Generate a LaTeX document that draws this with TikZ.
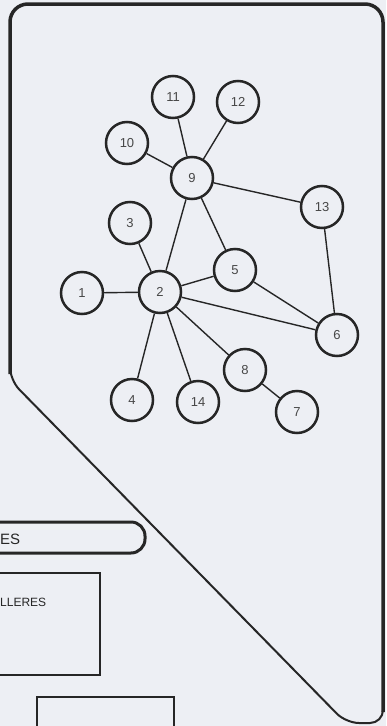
\documentclass[tikz,border=0pt]{standalone}
\usepackage{fontspec}
\setmainfont{Liberation Sans}
\definecolor{bg}{HTML}{EDEFF4}
\definecolor{ink}{HTML}{262626}
\begin{document}
\begin{tikzpicture}[x=1pt,y=-1pt,
  vtx/.style={circle,draw=ink,line width=2.5pt,fill=bg,minimum size=42pt,inner sep=0pt,font=\fontsize{13}{13}\selectfont,text=ink!85},
  edge/.style={draw=ink,line width=1.4pt},
  lbl/.style={font=\fontsize{15}{15}\selectfont,text=ink,inner sep=0pt}]
\useasboundingbox (0,0) rectangle (386,726);
\fill[bg] (0,0) rectangle (386,726);
\begin{scope}
\clip (0,0) rectangle (386,726);
% panel
\draw[ink,line width=2pt,rounded corners=13pt]
  (10,200) -- (10,380) -- (346,723) -- (383,723) -- (383,200);
\draw[ink,line width=3.5pt,rounded corners=18pt]
  (10,374) -- (10,4) -- (383,4) -- (383,712);
% left boxes
\draw[ink,line width=3pt,rounded corners=14pt] (-40,522) rectangle (145,553);
\node[lbl,anchor=west] (es) at (0,539) {ES};
\draw[ink,line width=1.8pt] (-10,573) rectangle (100,675);
\node[lbl,anchor=west,font=\fontsize{12}{12}\selectfont] (ll) at (0,602) {LLERES};
\draw[ink,line width=1.8pt] (37,697) rectangle (174,760);
\end{scope}
% nodes
\node[vtx] (n11) at (173,97) {11};
\node[vtx] (n12) at (238,102) {12};
\node[vtx] (n10) at (127,143) {10};
\node[vtx] (n9) at (192,178) {9};
\node[vtx] (n13) at (322,207) {13};
\node[vtx] (n3) at (130,223) {3};
\node[vtx] (n5) at (235,270) {5};
\node[vtx] (n1) at (82,293) {1};
\node[vtx] (n2) at (160,292) {2};
\node[vtx] (n6) at (337,335) {6};
\node[vtx] (n8) at (245,370) {8};
\node[vtx] (n4) at (132,400) {4};
\node[vtx] (n14) at (198,402) {14};
\node[vtx] (n7) at (297,412) {7};
% edges
\foreach \a/\b in {n11/n9,n12/n9,n10/n9,n9/n13,n9/n2,n9/n5,n3/n2,n1/n2,n2/n5,n2/n6,n5/n6,n13/n6,n2/n4,n2/n14,n2/n8,n8/n7}
  \draw[edge] (\a) -- (\b);
\end{tikzpicture}
\end{document}
